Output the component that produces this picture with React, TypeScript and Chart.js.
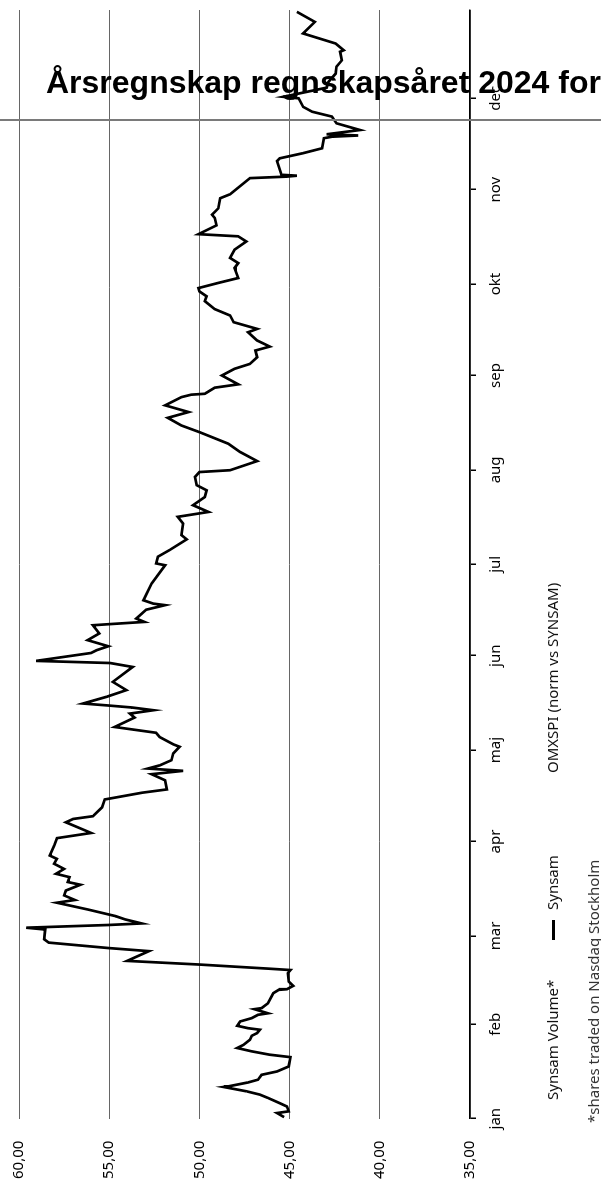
import React, { useEffect, useRef } from 'react';
import { Chart, LineController, LineElement, PointElement, LinearScale } from 'chart.js';

Chart.register(LineController, LineElement, PointElement, LinearScale);

// chart is drawn landscape and turned 90° counter-clockwise
const W = 1186;
const H = 601;
const FONT = "'Noto Sans', sans-serif";

// day of year 2024 (0 = 1 jan) and Synsam close, one line per stretch of the year
const days = [
  0.5, 1.85, 2.4, 4.0, 5.1, 6.8, 7.9, 9.0, 10.4, 10.6, 11.9, 12.8, 14.4, 15.5, 17.15, 20.2, 21.0, 22.1, 23.2, 24.25,
  25.9, 27.2, 28.1, 29.2, 29.7, 30.5, 31.9, 33.0, 34.1, 34.6, 35.95, 36.3, 37.9, 41.2, 42.3, 42.5, 43.6, 45.0, 47.75, 48.8,

  49.3, 50.6, 51.8, 55.0, 56.0, 57.8, 58.9, 62.1, 62.7, 63.6, 64.1, 65.4, 66.5, 68.7, 70.9, 71.8, 73.3, 74.9, 76.8, 77.7,
  79.3, 80.4, 82.0, 83.7, 85.3, 86.4, 89.7, 92.1, 93.8, 97.3, 98.4, 99.3, 102.2,

  104.8, 107.0, 108.1, 111.1, 113.1, 114.2, 114.95, 116.0, 117.7, 119.9, 122.1, 122.9, 125.3, 126.7, 128.6, 131.7, 133.0, 134.1, 135.0, 135.7,
  136.3, 138.5, 140.7, 143.4, 148.3, 149.6, 150.3, 152.9, 153.8, 155.1, 157.1, 159.3, 162.0, 162.3, 163.1, 164.2, 167.1, 168.6, 169.1, 170.2,

  175.7, 181.7, 182.3, 184.5, 186.7, 190.2, 191.6, 195.4, 197.6, 199.2, 201.4, 204.1, 206.3, 208.0, 210.7, 212.3, 212.9, 215.9, 218.9, 221.6,
  225.4, 227.6, 230.1, 232.0, 234.2, 236.9, 237.7, 238.0, 240.0, 241.1, 244.0, 246.2, 247.8, 250.0, 252.2, 253.5, 255.5, 258.2, 259.3, 261.5,
  263.7, 265.8, 268.4,

  270.0, 271.6, 272.7, 274.4, 276.0, 279.3, 280.9, 282.6, 285.3, 288.0, 289.7, 290.4, 293.3, 295.7, 296.8, 298.9, 302.2, 303.5, 308.8, 309.3,
  309.6, 309.9, 314.4, 315.3, 317.0, 318.6, 321.9, 322.4, 322.8, 323.2, 324.6, 326.8, 329.0, 330.6, 332.2, 335.0, 335.5, 338.5, 340.4, 343.1,
  345.4, 347.5, 350.3, 350.8, 353.0, 356.3, 360.1, 363.4,
];
const prices = [
  45.3, 45.7, 45.05, 45.15, 45.55, 46.2, 46.65, 47.4, 48.65, 48.4, 47.3, 46.75, 46.55, 45.7, 45.05, 44.95, 46.1, 47.1, 47.9, 47.55,
  47.2, 47.1, 46.8, 46.65, 47.3, 47.9, 47.75, 47.1, 46.75, 46.2, 46.95, 46.55, 46.2, 45.9, 45.6, 45.15, 44.8, 45.05, 45.1, 44.95,

  46.3, 50.0, 54.0, 52.8, 55.0, 58.35, 58.6, 58.55, 59.6, 55.0, 53.2, 54.1, 54.65, 56.2, 57.9, 56.9, 57.5, 57.4, 56.6, 57.3,
  57.2, 57.95, 57.5, 58.05, 57.9, 58.3, 58.05, 57.9, 56.0, 57.4, 57.0, 55.9, 55.4,

  55.25, 53.2, 51.8, 51.9, 52.65, 50.9, 52.85, 52.2, 51.55, 51.45, 51.1, 51.45, 52.2, 52.4, 54.7, 53.6, 53.85, 52.55, 53.75, 55.15,
  56.45, 55.15, 54.05, 54.8, 53.7, 54.95, 59.05, 56.0, 55.7, 55.05, 56.2, 55.55, 55.9, 55.15, 53.05, 53.5, 52.95, 51.9, 52.55, 53.1,

  52.65, 51.9, 52.4, 52.3, 51.65, 50.7, 51.0, 50.9, 51.2, 49.5, 50.35, 49.7, 49.6, 50.15, 50.25, 50.0, 48.3, 46.8, 47.75, 48.4,
  50.0, 51.0, 51.75, 50.6, 51.9, 51.0, 50.45, 49.7, 49.15, 47.85, 48.75, 48.05, 47.2, 46.8, 46.9, 46.1, 46.8, 47.3, 46.8, 48.1,
  48.3, 49.15, 49.7,

  49.6, 50.0, 50.05, 48.95, 47.85, 48.05, 47.85, 48.3, 48.05, 47.4, 47.85, 50.05, 49.05, 49.15, 49.3, 48.95, 48.85, 48.3, 47.2, 45.15,
  44.6, 45.45, 45.7, 45.55, 44.25, 43.2, 43.1, 42.65, 41.2, 42.95, 41.1, 42.4, 42.65, 43.75, 44.25, 44.5, 45.35, 42.95, 42.85, 42.45,
  42.4, 42.1, 42.2, 42.0, 42.45, 44.25, 43.6, 44.6,
];

const monthStarts = [0, 31, 60, 91, 121, 152, 182, 213, 244, 274, 305, 335];
const monthLabels = ['jan', 'feb', 'mar', 'apr', 'maj', 'jun', 'jul', 'aug', 'sep', 'okt', 'nov', 'dec'];
const yTicks = [35, 40, 45, 50, 55, 60];

const legendText: React.CSSProperties = {
  position: 'absolute', top: 543, fontFamily: FONT, fontSize: 15, lineHeight: '18px',
  color: '#111', whiteSpace: 'nowrap',
};

export default function App() {
  const ref = useRef<HTMLCanvasElement>(null);

  useEffect(() => {
    if (!ref.current) return;
    const chart = new Chart(ref.current, {
      type: 'line',
      data: {
        datasets: [{
          label: 'Synsam',
          data: days.map((d, i) => ({ x: d, y: prices[i] })),
          borderColor: '#000', borderWidth: 2.7,
          pointRadius: 0, tension: 0, fill: false,
        }],
      },
      options: {
        responsive: false, animation: false,
        // negative left offsets the label room chart.js adds on its own
        layout: { padding: { left: -15, right: 10, top: 0, bottom: 73 } },
        plugins: { legend: { display: false }, tooltip: { enabled: false } },
        scales: {
          x: {
            type: 'linear', min: 0, max: 364,
            afterBuildTicks: (axis: any) => { axis.ticks = monthStarts.map(value => ({ value })); },
            ticks: {
              callback: (_v: any, i: number) => monthLabels[i],
              color: '#000', font: { family: FONT, size: 15 }, padding: 11, maxRotation: 0, autoSkip: false,
            },
            grid: { drawOnChartArea: false, color: '#000', lineWidth: 1.5, tickLength: 6 },
            border: { display: true, color: '#000', width: 1.5 },
          },
          y: {
            min: 35, max: 60,
            afterBuildTicks: (axis: any) => { axis.ticks = yTicks.map(value => ({ value })); },
            ticks: {
              callback: (v: any) => Number(v).toFixed(2).replace('.', ','),
              color: '#000', font: { family: FONT, size: 15 }, padding: 22,
            },
            grid: { color: '#666', lineWidth: 1, drawTicks: false },
            border: { display: false },
          },
        },
      },
    });
    return () => chart.destroy();
  }, []);

  return (
    <>
      <div style={{
        position: 'fixed', left: 0, top: 0, width: W, height: H, background: '#fff',
        transformOrigin: '0 0', transform: `translateY(${W}px) rotate(-90deg)`,
      }}>
        {/* shifted up so the 60 line sits near the page edge as in the source */}
        <canvas ref={ref} width={W} height={H} style={{ position: 'absolute', left: 0, top: -12 }} />
        <span style={{ ...legendText, left: 86 }}>Synsam Volume*</span>
        <div style={{ position: 'absolute', left: 246, top: 552, width: 20, height: 3, background: '#000' }} />
        <span style={{ ...legendText, left: 276 }}>Synsam</span>
        <span style={{ ...legendText, left: 413 }}>OMXSPI (norm vs SYNSAM)</span>
        <span style={{ ...legendText, left: 63, top: 583.5, color: '#333' }}>*shares traded on Nasdaq Stockholm</span>
      </div>
      <div style={{ position: 'fixed', left: 0, top: 119, width: 601, height: 2, background: '#7a7a7a' }} />
      <div style={{
        position: 'fixed', left: 46, top: 66, whiteSpace: 'nowrap',
        fontFamily: "'Liberation Sans', Arial, sans-serif", fontWeight: 'bold', fontSize: 32, lineHeight: '32px', color: '#000',
      }}>
        Årsregnskap regnskapsåret 2024 for
      </div>
    </>
  );
}
